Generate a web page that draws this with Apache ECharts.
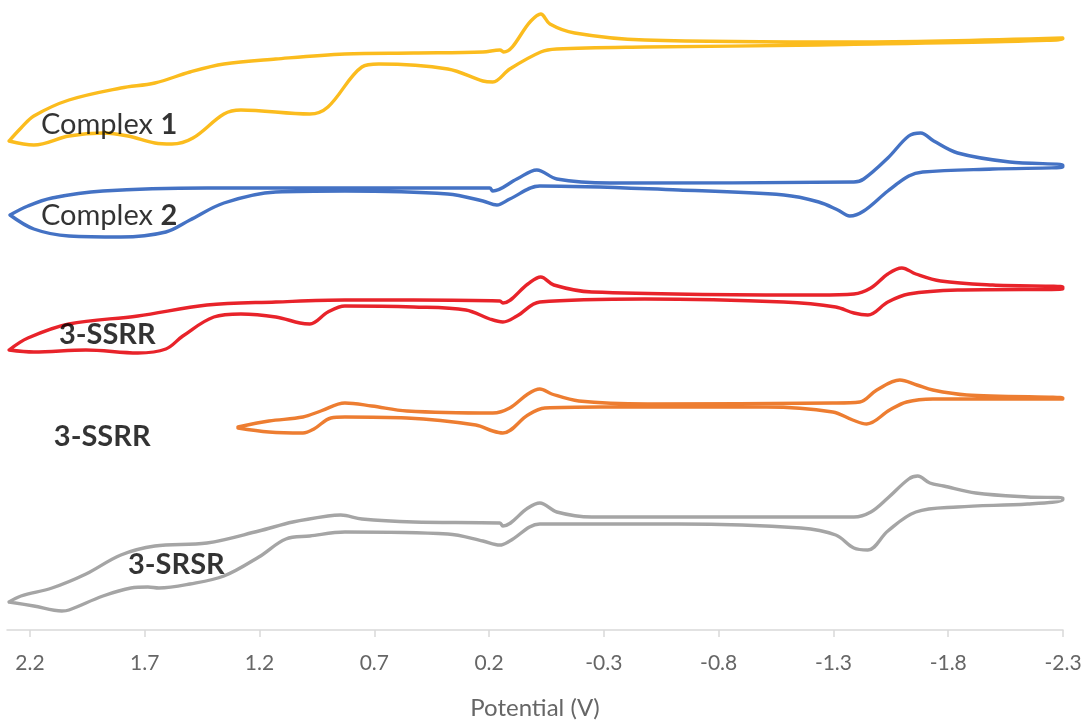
<!DOCTYPE html>
<html>
<head>
<meta charset="utf-8">
<script src="https://cdn.jsdelivr.net/npm/echarts@6/dist/echarts.min.js"></script>
<style>
  html, body { margin: 0; padding: 0; background: #fff; }
  #chart { width: 1086px; height: 721px; }
</style>
</head>
<body>
<div id="chart"></div>
<script>
// Cyclic voltammograms, stacked with vertical offsets (current in arbitrary units).
// Each trace is a closed loop of [potential (V), current] pairs.

const tickValues = [2.2, 1.7, 1.2, 0.7, 0.2, -0.3, -0.8, -1.3, -1.8, -2.3];

const complex1 = [
  [2.291, 48.9], [2.239, 50.2], [2.183, 51.4], [2.030, 53.0], [1.804, 54.2], [1.656, 54.7],
  [1.503, 55.8], [1.355, 56.6], [1.129, 57.1], [0.828, 57.6], [0.528, 57.7], [0.227, 57.8],
  [0.153, 58.0], [0.136, 57.8], [0.018, 60.9], [-0.025, 61.6], [-0.065, 60.6], [-0.173, 59.7],
  [-0.478, 59.0], [-1.389, 58.8], [-2.299, 59.2],
  [-2.299, 59.1], [-1.236, 58.5], [-0.478, 58.3], [-0.095, 58.1], [-0.025, 57.8], [0.110, 56.1],
  [0.184, 54.8], [0.227, 54.9], [0.380, 56.1], [0.680, 56.6], [0.754, 56.3], [0.902, 52.3],
  [0.981, 51.6], [1.281, 52.0], [1.355, 51.6], [1.490, 49.2], [1.582, 48.6], [1.656, 48.7],
  [1.773, 49.4], [1.882, 49.7], [2.030, 49.4], [2.183, 48.5], [2.291, 48.9]
];

const complex2 = [
  [2.287, 41.5], [2.209, 42.4], [2.104, 43.2], [1.882, 43.9], [1.429, 44.2], [0.828, 44.2],
  [0.197, 44.2], [0.184, 43.9], [0.079, 45.1], [-0.008, 46.0], [-0.095, 45.1], [-0.326, 44.7],
  [-1.389, 44.8], [-1.432, 45.1], [-1.537, 47.2], [-1.628, 49.4], [-1.680, 49.7], [-1.737, 48.9],
  [-1.841, 47.7], [-2.068, 46.8], [-2.299, 46.5],
  [-2.299, 46.3], [-1.994, 46.1], [-1.689, 45.8], [-1.628, 45.4], [-1.537, 43.9], [-1.432, 41.9],
  [-1.371, 41.4], [-1.319, 42.0], [-1.236, 42.8], [-1.084, 43.5], [-0.626, 44.0], [-0.021, 44.4],
  [0.110, 43.1], [0.166, 42.5], [0.227, 42.9], [0.380, 43.6], [0.828, 43.9], [1.129, 43.8],
  [1.355, 42.7], [1.503, 41.0], [1.608, 39.8], [1.804, 39.3], [2.030, 39.4], [2.183, 40.1],
  [2.287, 41.5]
];

const ssrrWide = [
  [2.291, 28.0], [2.209, 29.2], [2.030, 30.6], [1.730, 31.4], [1.429, 32.5], [1.129, 32.8],
  [0.828, 33.0], [0.528, 33.0], [0.153, 32.9], [0.140, 32.7], [0.031, 34.6], [-0.025, 35.3],
  [-0.082, 34.5], [-0.248, 33.8], [-1.236, 33.5], [-1.389, 33.6], [-1.463, 34.2], [-1.537, 35.6],
  [-1.598, 36.2], [-1.659, 35.6], [-1.767, 34.9], [-1.994, 34.5], [-2.299, 34.3],
  [-2.299, 34.1], [-1.841, 34.0], [-1.628, 33.6], [-1.537, 32.8], [-1.450, 31.5], [-1.389, 31.7],
  [-1.310, 32.3], [-1.084, 32.8], [-0.478, 33.1], [-0.021, 32.8], [0.079, 31.4], [0.140, 30.8],
  [0.197, 31.1], [0.301, 32.0], [0.528, 32.3], [0.828, 32.4], [0.902, 31.8], [0.981, 30.6],
  [1.024, 30.7], [1.129, 31.3], [1.281, 31.6], [1.399, 31.3], [1.534, 29.4], [1.608, 28.1],
  [1.730, 27.7], [1.956, 28.0], [2.183, 27.8], [2.291, 28.0]
];

const ssrrNarrow = [
  [1.294, 20.3], [1.159, 20.9], [1.011, 21.3], [0.933, 21.9], [0.828, 22.7], [0.711, 22.4],
  [0.558, 21.9], [0.184, 21.7], [0.110, 22.2], [0.031, 23.6], [-0.021, 24.1], [-0.073, 23.6],
  [-0.191, 22.9], [-0.491, 22.6], [-1.297, 22.7], [-1.415, 22.8], [-1.489, 24.0], [-1.589, 25.0],
  [-1.663, 24.5], [-1.733, 24.0], [-1.881, 23.5], [-2.299, 23.2],
  [-2.299, 23.1], [-1.733, 23.1], [-1.619, 22.8], [-1.545, 22.0], [-1.445, 20.6], [-1.384, 21.0],
  [-1.297, 21.8], [-1.010, 22.3], [-0.282, 22.3], [-0.043, 22.2], [0.031, 21.5], [0.140, 19.7],
  [0.184, 19.9], [0.258, 20.5], [0.558, 21.2], [0.828, 21.3], [0.889, 21.2], [0.963, 20.1],
  [1.011, 19.7], [1.159, 19.8], [1.294, 20.2]
];

const srsr = [
  [2.291, 2.8], [2.239, 3.4], [2.104, 4.2], [1.956, 5.6], [1.804, 7.5], [1.656, 8.4],
  [1.429, 8.7], [1.203, 9.9], [1.055, 10.8], [0.902, 11.4], [0.846, 11.5], [0.754, 11.1],
  [0.528, 10.8], [0.153, 10.7], [0.140, 10.4], [0.031, 12.2], [-0.021, 12.7], [-0.095, 11.8],
  [-0.248, 11.3], [-1.389, 11.3], [-1.463, 11.8], [-1.537, 13.2], [-1.628, 15.1], [-1.667, 15.4],
  [-1.720, 14.7], [-1.780, 14.4], [-1.920, 13.7], [-2.146, 13.3], [-2.299, 13.2],
  [-2.299, 13.0], [-2.146, 12.6], [-1.841, 12.3], [-1.659, 11.8], [-1.537, 9.9], [-1.450, 8.0],
  [-1.389, 8.2], [-1.310, 9.5], [-1.158, 10.2], [-0.626, 10.6], [-0.021, 10.6], [0.110, 8.9],
  [0.153, 8.5], [0.227, 8.9], [0.380, 9.6], [0.828, 9.8], [0.981, 9.4], [1.085, 9.1],
  [1.203, 7.3], [1.355, 5.4], [1.503, 4.6], [1.638, 4.2], [1.686, 4.3], [1.760, 4.2],
  [1.882, 3.4], [2.030, 2.0], [2.061, 1.9], [2.183, 2.4], [2.291, 2.8]
];

// Trace labels: [potential, current, plain part, bold part]
const traceLabels = [
  [2.152, 50.5, 'Complex ', '1'],
  [2.152, 41.4, 'Complex ', '2'],
  [2.074, 29.5, '', '3-SSRR'],
  [2.096, 19.3, '', '3-SSRR'],
  [1.773, 6.5, '', '3-SRSR']
];

const traces = [
  { name: 'Complex 1', data: complex1, color: '#FBBC1E' },
  { name: 'Complex 2', data: complex2, color: '#4472C4' },
  { name: '3-SSRR (wide)', data: ssrrWide, color: '#E8232A' },
  { name: '3-SSRR', data: ssrrNarrow, color: '#ED7D31' },
  { name: '3-SRSR', data: srsr, color: '#A5A5A5' }
];

const chart = echarts.init(document.getElementById('chart'), null, { renderer: 'canvas' });

const lineSeries = traces.map(t => ({
  name: t.name,
  type: 'line',
  data: t.data,
  showSymbol: false,
  smooth: 0.35,
  lineStyle: { color: t.color, width: 3.4, cap: 'round', join: 'round' },
  itemStyle: { color: t.color },
  z: 2,
  silent: true
}));

const labelSeries = {
  type: 'scatter',
  symbolSize: 0,
  z: 5,
  silent: true,
  data: traceLabels.map(l => ({
    value: [l[0], l[1]],
    label: {
      show: true,
      position: 'right',
      distance: 0,
      formatter: (l[2] ? '{n|' + l[2] + '}' : '') + '{b|' + l[3] + '}',
      rich: {
        n: { fontFamily: 'Lato', fontSize: 29, color: '#000' },
        b: { fontFamily: 'Lato', fontSize: 29, fontWeight: 'bold', color: '#000' }
      }
    }
  }))
};

chart.setOption({
  animation: false,
  backgroundColor: '#ffffff',
  grid: { left: 7, right: 23, top: 0, bottom: 91, outerBoundsMode: 'none', containLabel: false },
  xAxis: {
    type: 'value',
    inverse: true,
    min: -2.3,
    max: 2.3,
    name: 'Potential (V)',
    nameLocation: 'middle',
    nameGap: 66,
    nameTextStyle: { fontFamily: 'Lato', fontSize: 24, color: '#666666' },
    axisLine: { show: true, onZero: false, lineStyle: { color: '#D9D9D9', width: 1.5 } },
    axisTick: {
      show: true,
      length: 7,
      customValues: tickValues,
      lineStyle: { color: '#D9D9D9', width: 1.5 }
    },
    axisLabel: {
      customValues: tickValues,
      margin: 23,
      fontFamily: 'Lato',
      fontSize: 21,
      color: '#666666',
      formatter: v => v.toFixed(1)
    },
    splitLine: { show: false }
  },
  yAxis: {
    type: 'value',
    min: 0,
    max: 63,
    show: false,
    splitLine: { show: false }
  },
  series: lineSeries.concat([labelSeries])
});
</script>
</body>
</html>
